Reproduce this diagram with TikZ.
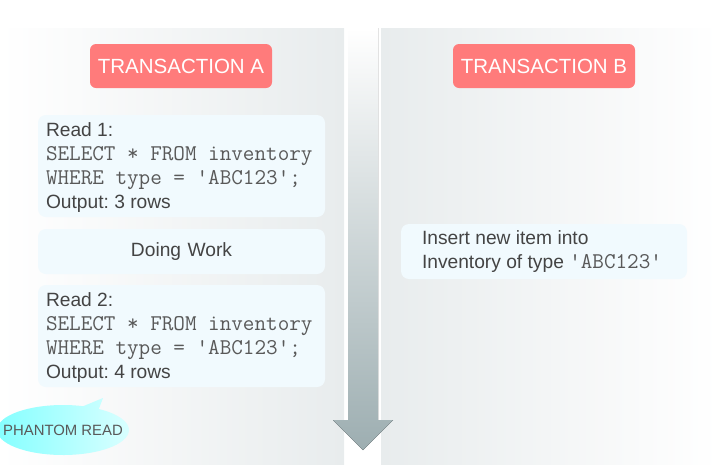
\documentclass[tikz,border=0pt]{standalone}
\usepackage{fontspec}
\setmainfont{Liberation Sans}
\usetikzlibrary{shapes.callouts}

\definecolor{panelgray}{HTML}{E8ECED}
\definecolor{boxfill}{HTML}{F1FAFE}
\definecolor{headred}{HTML}{FF7B7B}
\definecolor{textgray}{HTML}{444444}
\definecolor{codegray}{HTML}{595959}
\definecolor{timegray}{HTML}{9DAEB1}

\tikzset{
  txhead/.style={fill=headred, rounded corners=6pt, text=white,
    minimum width=182pt, minimum height=44pt,
    font=\fontsize{20.5}{24}\selectfont},
  stepbox/.style={fill=boxfill, rounded corners=8pt, text=textgray,
    text width=271pt, inner xsep=8pt, align=left,
    font=\frenchspacing\fontsize{19.2}{23.7}\selectfont},
}
\newcommand{\natspace}{\spaceskip=0pt\xspaceskip=0pt }
\newcommand{\sqlcode}[1]{{\color{codegray}\ttfamily\fontsize{22.5}{23.7}\selectfont
  \natspace #1}}

\begin{document}
\begin{tikzpicture}[x=1pt, y=-1pt]
            \useasboundingbox (0,0) rectangle (719,464);
            % panels
            \fill[left color=white, right color=panelgray] (0,28) rectangle (344,464);
            \fill[left color=panelgray, right color=white] (381,28) rectangle (719,464);
            % time line
            \fill[top color=white, bottom color=timegray]
              (348,28) -- (378,28) -- (378,420) -- (393,420) -- (363,450)
              -- (333,420) -- (348,420) -- cycle;
            \node[txhead] (headA) at (181,66) {TRANSACTION A};
            \node[txhead] (headB) at (544,66) {TRANSACTION B};
            \node[stepbox, minimum height=102pt] (read1) at (181.5,166)
              {\natspace\rule{0pt}{17pt}Read 1:\\ \sqlcode{SELECT * FROM inventory}\\
               \sqlcode{WHERE type = 'ABC123';}\\ Output: 3 rows};
            \node[stepbox, align=center, minimum height=45pt] (work) at (181.5,251.5) {Doing Work};
            \node[stepbox, minimum height=102pt] (read2) at (181.5,336)
              {\natspace\rule{0pt}{17pt}Read 2:\\ \sqlcode{SELECT * FROM inventory}\\
               \sqlcode{WHERE type = 'ABC123';}\\ Output: 4 rows};
            \node[stepbox, text width=266pt, inner xsep=10pt, minimum height=55pt] (insert) at (544,251.5)
              {\natspace\hspace*{11pt}Insert new item into\\ \hspace*{11pt}Inventory of type \sqlcode{'ABC123'}};
            \node[ellipse callout, callout absolute pointer={(103,398)},
              left color=cyan!50, right color=cyan!15, text=codegray,
              minimum width=132pt, minimum height=50pt, inner sep=0pt,
              font=\fontsize{14.9}{18}\selectfont] (phantom) at (63,430) {\makebox[0pt]{PHANTOM READ}};
        \end{tikzpicture}
\end{document}
